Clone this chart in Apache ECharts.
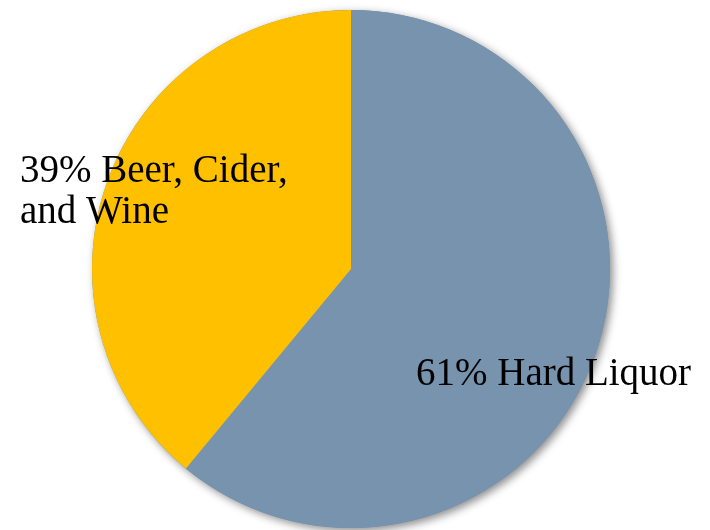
<!DOCTYPE html>
<html><head><meta charset="utf-8">
<script src="https://cdn.jsdelivr.net/npm/echarts@6/dist/echarts.min.js"></script>
<style>html,body{margin:0;padding:0;background:#fff}#c{width:710px;height:530px}</style>
</head><body><div id="c"></div>
<script>
var categories = ['Hard Liquor', 'Beer, Cider,\nand Wine'];
var values = [61, 39];
var colors = ['#7793AD', '#FFC000'];
var chart = echarts.init(document.getElementById('c'));
var labelPos = [
  {x: 416, y: 354},
  {x: 20, y: 151}
];
chart.setOption({
  animation: false,
  series: [{
    type: 'pie',
    silent: true,
    center: [351, 269],
    radius: [0, 259],
    data: [{value: 1, name: '', itemStyle: {color: '#7793AD'}}],
    itemStyle: {shadowBlur: 8, shadowOffsetX: 3, shadowOffsetY: 3, shadowColor: 'rgba(0,0,0,0.45)'},
    label: {show: false},
    labelLine: {show: false},
    tooltip: {show: false},
    emphasis: {disabled: true}
  }, {
    type: 'pie',
    center: [351, 269],
    radius: [0, 259],
    startAngle: 90,
    clockwise: true,
    data: categories.map(function (c, i) {
      return {name: c, value: values[i], itemStyle: {color: colors[i]}};
    }),
    itemStyle: {borderWidth: 0},
    label: {
      show: true,
      position: 'inside',
      formatter: function (p) { return p.value + '% ' + p.name; },
      fontFamily: 'Liberation Serif',
      fontSize: 39,
      lineHeight: 41,
      color: '#000'
    },
    labelLine: {show: false},
    labelLayout: function (p) {
      var lp = labelPos[p.dataIndex];
      return {x: lp.x, y: lp.y, align: 'left', verticalAlign: 'top'};
    },
    emphasis: {disabled: true}
  }]
});
</script></body></html>
